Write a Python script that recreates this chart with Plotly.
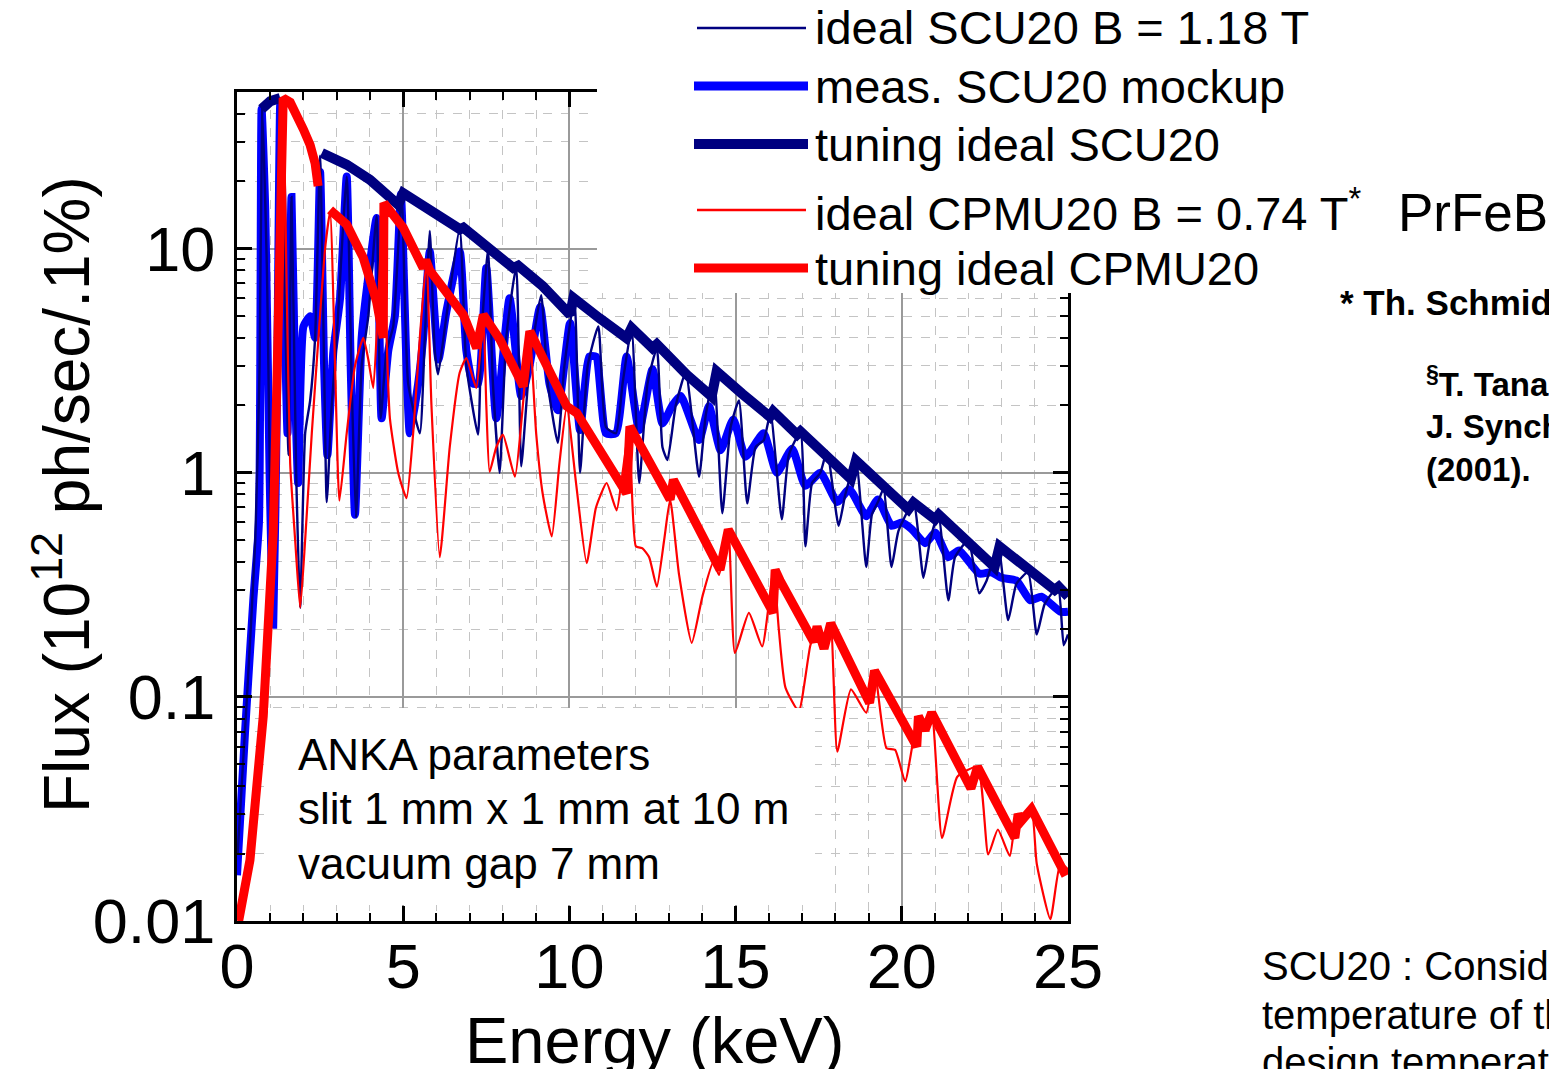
import plotly.graph_objects as go

# ---------------- spectra (energy in keV, flux in 1e12 ph/s/0.1%) ----------------
scu_ideal_e = [0.02, 0.3, 0.55, 0.68, 0.76, 0.9, 1.05, 1.15, 1.3, 1.45, 1.55, 1.64, 1.78, 1.9, 2.05,
               2.2, 2.35, 2.5, 2.62, 2.7, 2.85, 3.0, 3.3, 3.45, 3.58, 3.75, 3.95, 4.2, 4.32, 4.5,
               4.7, 4.95, 5.15, 5.5, 5.65, 5.8, 5.95, 6.05, 6.3, 6.7, 6.9, 7.25, 7.35, 7.55, 7.7,
               7.9, 8.1, 8.4, 8.55, 8.8, 9.15, 9.35, 9.65, 9.85, 10.15, 10.32, 10.55, 10.87, 11.1,
               11.4, 11.6, 11.87, 12.1, 12.35, 12.63, 12.8, 12.95, 13.2, 13.5, 13.9, 14.1, 14.35,
               14.6, 14.85, 15.1, 15.35, 15.6, 15.85, 16.05, 16.39, 16.6, 16.95, 17.1, 17.3, 17.55,
               17.75, 18.1, 18.3, 18.62, 18.93, 19.1, 19.3, 19.45, 19.69, 19.9, 20.35, 20.65, 20.85,
               21.1, 21.4, 21.6, 22.0, 22.33, 22.55, 22.9, 23.2, 23.45, 23.8, 24.06, 24.3, 24.7,
               24.87, 25.0]
scu_ideal_f = [0.02, 0.1, 0.5, 3.0, 42, 8, 0.3, 1.5, 47, 5, 1.2, 17, 1.0, 0.25, 1.5,
               2.1, 4.0, 26, 3.0, 0.74, 2.0, 4.0, 21, 2.5, 0.63, 3.0, 5.0, 14, 1.75, 3.5,
               4.5, 17.5, 2.5, 1.5, 4.0, 12, 3.5, 2.75, 5.0, 12.2, 3.0, 1.48, 4.0, 10, 2.5,
               1.0, 4.0, 8.3, 1.07, 3.0, 6.2, 2.5, 1.36, 3.0, 6.0, 1.0, 3.0, 4.5, 1.6,
               1.5, 2.5, 4.4, 0.9, 2.5, 3.6, 1.3, 1.14, 2.0, 2.8, 0.96, 1.8, 2.7,
               0.66, 1.6, 2.1, 0.73, 1.3, 1.4, 1.85, 0.62, 1.2, 1.52, 0.47, 0.9, 1.0,
               1.25, 0.58, 0.8, 1.13, 0.38, 0.65, 0.75, 0.85, 0.38, 0.55, 0.74, 0.34, 0.5,
               0.65, 0.27, 0.42, 0.5, 0.29, 0.33, 0.47, 0.22, 0.32, 0.36, 0.19, 0.26, 0.31,
               0.17, 0.19]

scu_meas_e = [0.0, 0.24, 0.49, 0.66, 0.74, 0.85, 0.98, 1.09, 1.2, 1.3, 1.42, 1.52, 1.64, 1.76, 1.84,
              2.0, 2.2, 2.35, 2.5, 2.62, 2.72, 2.9, 3.1, 3.3, 3.42, 3.55, 3.75, 3.9, 4.2, 4.35,
              4.55, 4.75, 4.93, 5.1, 5.2, 5.45, 5.6, 5.8, 6.06, 6.3, 6.7, 6.9, 7.1, 7.25, 7.5,
              7.8, 8.2, 8.55, 8.8, 9.12, 9.4, 9.65, 10.02, 10.32, 10.6, 10.8, 11.1, 11.4, 11.72,
              12.1, 12.5, 12.8, 13.1, 13.35, 13.9, 14.2, 14.55, 14.93, 15.3, 15.84, 16.24, 16.7,
              17.1, 17.55, 18.06, 18.42, 18.93, 19.28, 19.69, 20.0, 20.3, 20.7, 21.01, 21.4,
              21.72, 22.33, 22.7, 23.0, 23.45, 23.86, 24.2, 24.77, 25.0]
scu_meas_f = [0.016, 0.069, 0.27, 0.6, 42, 15, 1.0, 0.21, 2.0, 44, 6.0, 1.5, 17, 2.0, 0.9,
              4.5, 5.0, 4.0, 22, 3.0, 1.2, 3.5, 6.0, 21, 3.0, 0.65, 4.0, 6.5, 13.7, 1.75,
              3.5, 5.0, 17.5, 3.0, 1.5, 2.5, 4.0, 9.7, 3.2, 5.25, 9.7, 3.5, 2.5, 2.5, 8.2,
              1.75, 6.0, 2.2, 3.0, 5.5, 2.5, 1.9, 4.66, 1.55, 3.3, 3.3, 1.5, 1.5, 3.3,
              1.55, 2.9, 1.66, 2.0, 2.2, 1.4, 1.98, 1.26, 1.73, 1.18, 1.5, 1.0, 1.28,
              0.875, 1.0, 0.74, 0.845, 0.64, 0.76, 0.58, 0.6, 0.56, 0.485, 0.54, 0.42,
              0.45, 0.355, 0.36, 0.34, 0.33, 0.27, 0.28, 0.24, 0.24]

# tuning curves: None separates the first-harmonic branch from the rest
scu_tune_e = [0.74, 1.0, 1.3, None, 2.55, 3.3, 4.0, 4.5, 4.85, 5.0, 5.81, 6.71,
              6.81, 7.61, 8.31, 8.46, 9.2, 10.02, 10.12, 10.9, 11.72, 11.87, 12.5, 12.63, 13.53,
              14.28, 14.43, 15.2, 16.03, 16.13, 16.64, 16.85, 16.95, 17.7, 18.47, 18.62, 19.4,
              20.2, 20.35, 21.0, 21.11, 22.0, 22.79, 22.94, 23.7, 24.46, 24.6, 24.72, 25.0]
scu_tune_f = [42, 45.5, 47, None, 26.7, 23.7, 20.3, 17.4, 15.7, 17.7, 14.7, 12.2,
              12.4, 10.1, 8.2, 8.4, 6.8, 5.07, 6.03, 4.9, 3.99, 4.43, 3.6, 3.75, 2.74,
              2.19, 2.83, 2.25, 1.78, 1.88, 1.6, 1.48, 1.53, 1.2, 0.94, 1.135, 0.88,
              0.687, 0.736, 0.62, 0.65, 0.48, 0.38, 0.469, 0.38, 0.31, 0.3, 0.31, 0.28]

cpmu_ideal_e = [0.1, 0.4, 0.8, 1.0, 1.15, 1.27, 1.39, 1.5, 1.6, 1.75, 1.9, 2.05, 2.25, 2.45, 2.65,
                2.8, 2.95, 3.08, 3.3, 3.55, 3.8, 3.95, 4.1, 4.25, 4.4, 4.5, 4.6, 4.85, 5.1, 5.3,
                5.5, 5.7, 5.85, 6.1, 6.4, 6.7, 6.9, 7.2, 7.41, 7.5, 7.6, 7.8, 8.0, 8.36, 8.6,
                8.8, 9.0, 9.2, 9.47, 9.7, 9.92, 10.2, 10.52, 10.8, 11.12, 11.42, 11.6, 11.8,
                12.0, 12.2, 12.4, 12.63, 12.85, 13.03, 13.3, 13.68, 14.0, 14.33, 14.5, 14.78,
                14.98, 15.4, 15.8, 16.14, 16.3, 16.5, 16.9, 17.25, 17.45, 17.66, 17.86, 18.06,
                18.47, 18.93, 19.18, 19.54, 19.8, 20.1, 20.5, 20.7, 20.9, 21.21, 21.67, 22.28,
                22.6, 22.89, 23.25, 23.45, 23.6, 23.9, 24.06, 24.47, 24.77, 25.0]
cpmu_ideal_f = [0.01, 0.019, 0.08, 0.3, 1.5, 10, 47, 6.0, 1.1, 0.5, 0.25, 0.5, 1.5, 4.0, 10,
                14.6, 3.0, 0.75, 1.5, 3.0, 4.0, 3.2, 2.39, 6.0, 16, 4.0, 1.75, 1.0, 0.77, 1.5,
                4.0, 8.8, 2.0, 0.42, 1.3, 2.8, 3.25, 2.39, 5.07, 2.0, 1.01, 1.3, 1.48, 0.96, 2.0,
                4.28, 1.5, 0.8, 0.52, 1.1, 1.98, 0.9, 0.395, 0.7, 0.9, 0.68, 1.0, 1.6,
                0.47, 0.46, 0.42, 0.31, 0.5, 0.76, 0.35, 0.174, 0.28, 0.4, 0.35, 0.557,
                0.157, 0.237, 0.168, 0.369, 0.2, 0.11, 0.0865, 0.17, 0.2, 0.165, 0.213, 0.057,
                0.108, 0.085, 0.131, 0.059, 0.058, 0.042, 0.082, 0.072, 0.085, 0.0235, 0.044, 0.0487,
                0.0198, 0.0256, 0.0195, 0.030, 0.028, 0.0316, 0.018, 0.0102, 0.018, 0.017]

cpmu_tune_e = [0.05, 0.39, 0.79, 0.94, 1.09, 1.2, 1.3, 1.39, 1.6, 1.8, 2.0, 2.2, 2.35, 2.44, None,
               2.8, 3.3, 3.8, 4.2, 4.4, 4.42, 5.0, 5.6, 5.68, 5.8, 6.81, 7.21, 7.41, 7.91, 8.61,
               8.81, 9.92, 10.22, 11.72, 11.82, 13.03, 13.13, 14.53, 14.78, 16.13, 16.19, 16.34,
               17.35, 17.45, 17.66, 17.86, 19.03, 19.18, 20.45, 20.5, 20.7, 20.9, 22.08, 22.28,
               23.4, 23.5, 23.6, 23.9, 24.87, 25.0]
cpmu_tune_f = [0.01, 0.0187, 0.082, 0.206, 0.54, 2.5, 15, 47, 45, 38, 34, 29, 24, 19, None,
               14.9, 12.8, 9.1, 5.8, 4.0, 16, 12.4, 8.2, 8.9, 8.0, 5.07, 3.6, 5.07, 3.93, 2.43,
               4.28, 1.98, 1.85, 0.81, 1.61, 0.76, 0.93, 0.369, 0.557, 0.237, 0.369, 0.33,
               0.176, 0.206, 0.164, 0.213, 0.094, 0.131, 0.060, 0.082, 0.071, 0.085, 0.039, 0.0487,
               0.0235, 0.030, 0.028, 0.0316, 0.0166, 0.017]

# ---------------- labels ----------------
series_names = ["ideal SCU20 B = 1.18 T", "meas. SCU20 mockup", "tuning ideal SCU20",
                "ideal CPMU20 B = 0.74 T<sup>*</sup>", "tuning ideal CPMU20"]
y_tick_vals = [0.01, 0.1, 1, 10]
y_tick_text = ["0.01", "0.1", "1", "10"]
y_minor_vals = [0.02, 0.03, 0.04, 0.05, 0.06, 0.07, 0.08, 0.09,
                0.2, 0.3, 0.4, 0.5, 0.6, 0.7, 0.8, 0.9,
                2, 3, 4, 5, 6, 7, 8, 9, 20, 30, 40]
info_lines = ["ANKA parameters", "slit 1 mm x 1 mm at 10 m", "vacuum gap 7 mm"]

NAVY = "#000080"
BLUE = "#0000ff"
RED = "#ff0000"
FONT = "Arial, 'Liberation Sans', sans-serif"

W, H = 1549, 1069
L, R, T, B = 237, 481, 92, 148
PW, PH = W - L - R, H - T - B


def xp(px):
    return (px - L) / PW


def yp(py):
    return (H - B - py) / PH


fig = go.Figure()
fig.add_trace(go.Scatter(x=scu_meas_e, y=scu_meas_f, mode="lines",
                         line=dict(color=BLUE, width=8, shape="spline", smoothing=0.5),
                         name=series_names[1]))
fig.add_trace(go.Scatter(x=scu_ideal_e, y=scu_ideal_f, mode="lines",
                         line=dict(color=NAVY, width=2.4, shape="spline", smoothing=0.5),
                         name=series_names[0]))
fig.add_trace(go.Scatter(x=scu_tune_e, y=scu_tune_f, mode="lines", connectgaps=False,
                         line=dict(color=NAVY, width=10), name=series_names[2]))
fig.add_trace(go.Scatter(x=cpmu_ideal_e, y=cpmu_ideal_f, mode="lines",
                         line=dict(color=RED, width=2.2, shape="spline", smoothing=0.5),
                         name=series_names[3]))
fig.add_trace(go.Scatter(x=cpmu_tune_e, y=cpmu_tune_f, mode="lines", connectgaps=False,
                         line=dict(color=RED, width=9), name=series_names[4]))

axis_common = dict(showline=True, linecolor="black", linewidth=3, mirror="ticks",
                   ticks="inside", tickcolor="black", tickwidth=3, ticklen=15,
                   showgrid=True, gridcolor="#9a9a9a", gridwidth=1.5, zeroline=False,
                   tickfont=dict(family=FONT, size=63, color="black"))

fig.update_xaxes(range=[0, 25], dtick=5, tick0=0, ticklabelstandoff=-12,
                 minor=dict(dtick=1, ticks="inside", ticklen=8, tickwidth=2, tickcolor="black",
                            showgrid=True, gridcolor="#c4c4c4", gridwidth=1.2, griddash="dash"),
                 **axis_common)
fig.update_yaxes(type="log", range=[-2, 1.69897], tickvals=y_tick_vals, ticktext=y_tick_text,
                 ticklabelstandoff=6,
                 minor=dict(tickvals=y_minor_vals, ticks="inside", ticklen=8, tickwidth=2,
                            tickcolor="black", showgrid=True, gridcolor="#c4c4c4",
                            gridwidth=1.2, griddash="dash"),
                 **axis_common)

shapes = [
    # white panel carrying the legend, over the upper right of the frame
    dict(type="rect", xref="paper", yref="paper", x0=xp(597), x1=xp(1560), y0=yp(293), y1=yp(-5),
         fillcolor="white", line=dict(width=0), layer="above"),
    # white panel behind the parameter box
    dict(type="rect", xref="paper", yref="paper", x0=xp(268), x1=xp(815), y0=yp(905), y1=yp(708),
         fillcolor="white", line=dict(width=0), layer="above"),
]

legend_rows = [
    (28, NAVY, 2.5, 697, 806),
    (86, BLUE, 9, 694, 808),
    (144, NAVY, 10, 694, 808),
    (210, RED, 2.5, 697, 806),
    (268, RED, 9, 694, 808),
]
annotations = []
for (ypix, col, lw, x0, x1), name in zip(legend_rows, series_names):
    shapes.append(dict(type="line", xref="paper", yref="paper", x0=xp(x0), x1=xp(x1),
                       y0=yp(ypix), y1=yp(ypix), line=dict(color=col, width=lw), layer="above"))
    annotations.append(dict(xref="paper", yref="paper", x=xp(813), y=yp(ypix),
                            xanchor="left", yanchor="middle", showarrow=False, text=name,
                            font=dict(family=FONT, size=47, color="black")))

annotations.append(dict(xref="paper", yref="paper", x=xp(1396), y=yp(213), xanchor="left",
                        yanchor="middle", showarrow=False, text="PrFeB",
                        font=dict(family=FONT, size=53, color="black")))

for i, line in enumerate(info_lines):
    annotations.append(dict(xref="paper", yref="paper", x=xp(296), y=yp(754 + 54.5 * i),
                            xanchor="left", yanchor="middle", showarrow=False, text=line,
                            font=dict(family=FONT, size=44, color="black")))

# axis titles
annotations.append(dict(xref="paper", yref="paper", x=xp(654), y=yp(1040), xanchor="center",
                        yanchor="middle", showarrow=False, text="Energy (keV)",
                        font=dict(family=FONT, size=65, color="black")))
annotations.append(dict(xref="paper", yref="paper", x=xp(62), y=yp(495), xanchor="center",
                        yanchor="middle", showarrow=False, textangle=-90,
                        text="Flux (10<sup>12</sup> ph/sec/.1%)",
                        font=dict(family=FONT, size=64, color="black")))

# references and notes beside the chart
side_notes = [
    (1338, 302, "<b>* Th. Schmidt</b>", 35),
    (1424, 382, "<b><sup>§</sup>T. Tanaka and H. Kitamura,</b>", 33),
    (1424, 426, "<b>J. Synchrotron Rad. 8, 1221</b>", 33),
    (1424, 469, "<b>(2001).</b>", 33),
    (1260, 966, "SCU20 : Considering the", 40),
    (1260, 1015, "temperature of the coils,", 40),
    (1260, 1062, "design temperature", 40),
]
for x, y, txt, size in side_notes:
    annotations.append(dict(xref="paper", yref="paper", x=xp(x), y=yp(y), xanchor="left",
                            yanchor="middle", showarrow=False, text=txt,
                            font=dict(family=FONT, size=size, color="black")))

fig.update_layout(width=W, height=H, margin=dict(l=L, r=R, t=T, b=B, autoexpand=False),
                  paper_bgcolor="white", plot_bgcolor="white", showlegend=False,
                  shapes=shapes, annotations=annotations)

fig.write_html("out.html", post_script="document.body.style.margin='0';")
